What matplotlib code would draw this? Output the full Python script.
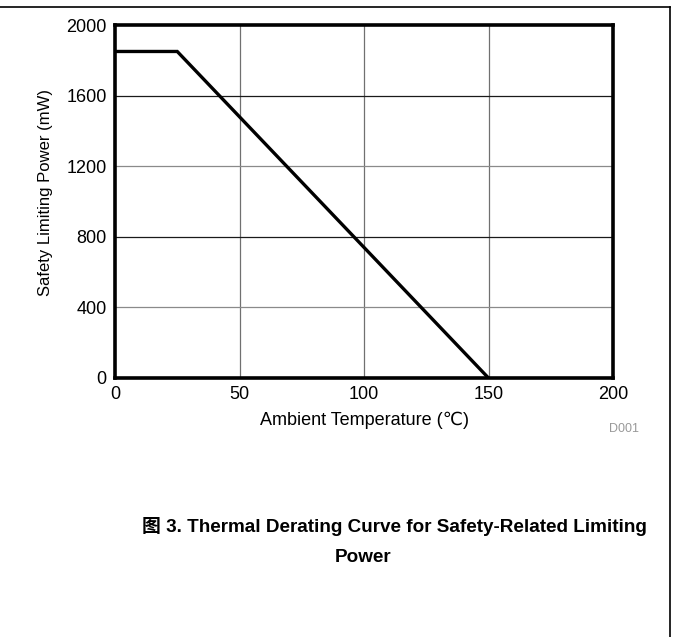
import matplotlib
matplotlib.use('Agg')
import matplotlib.pyplot as plt
from matplotlib.lines import Line2D

plt.rcParams['font.family'] = ['Liberation Sans', 'DejaVu Sans', 'Noto Sans CJK SC']

# data
temp = [0, 25, 150]
power = [1850, 1850, 0]
xticks = [0, 50, 100, 150, 200]
yticks = [0, 400, 800, 1200, 1600, 2000]
# the grid lines alternate dark / light in the original
hgrid_colors = {400: '#8a8a8a', 800: '#1a1a1a', 1200: '#8a8a8a', 1600: '#1a1a1a'}

W, H = 673, 637
fig = plt.figure(figsize=(W / 100, H / 100), dpi=100)
ax = fig.add_axes([115 / W, 1 - 378 / H, (613 - 115) / W, (378 - 25) / H])

for x in xticks[1:-1]:
    ax.axvline(x, color='#707070', lw=0.9, zorder=1)
for y, c in hgrid_colors.items():
    ax.axhline(y, color=c, lw=0.9, zorder=1)

ax.plot(temp, power, color='black', lw=2.4, solid_joinstyle='miter', zorder=3)

ax.set_xlim(0, 200)
ax.set_ylim(0, 2000)
ax.set_xticks(xticks)
ax.set_yticks(yticks)
ax.tick_params(length=0, labelsize=13, pad=6)
for s in ax.spines.values():
    s.set_linewidth(2.6)
    s.set_zorder(4)

ax.set_xlabel('Ambient Temperature (℃)', fontsize=13, labelpad=6)
ax.set_ylabel('Safety Limiting Power (mW)', fontsize=12)
ax.yaxis.set_label_coords((53 - 115) / (613 - 115), (378 - 193) / (378 - 25))

fig.text(624 / W, 1 - 429 / H, 'D001', fontsize=9, color='#999999', ha='center', va='center')

fig.text(647 / W, 1 - 527 / H, '图 3. Thermal Derating Curve for Safety-Related Limiting',
         fontsize=13.6, fontweight='bold', ha='right', va='center',
         family=['Liberation Sans', 'Noto Sans CJK SC'])
fig.text(363 / W, 1 - 557 / H, 'Power', fontsize=13.6, fontweight='bold', ha='center', va='center')

# page frame: top and right edges only
fig.add_artist(Line2D([0, 670 / W], [1 - 7 / H, 1 - 7 / H], color='black', lw=1.2, transform=fig.transFigure))
fig.add_artist(Line2D([670 / W, 670 / W], [1 - 7 / H, 0], color='black', lw=1.2, transform=fig.transFigure))

fig.savefig('out.png', dpi=100)
